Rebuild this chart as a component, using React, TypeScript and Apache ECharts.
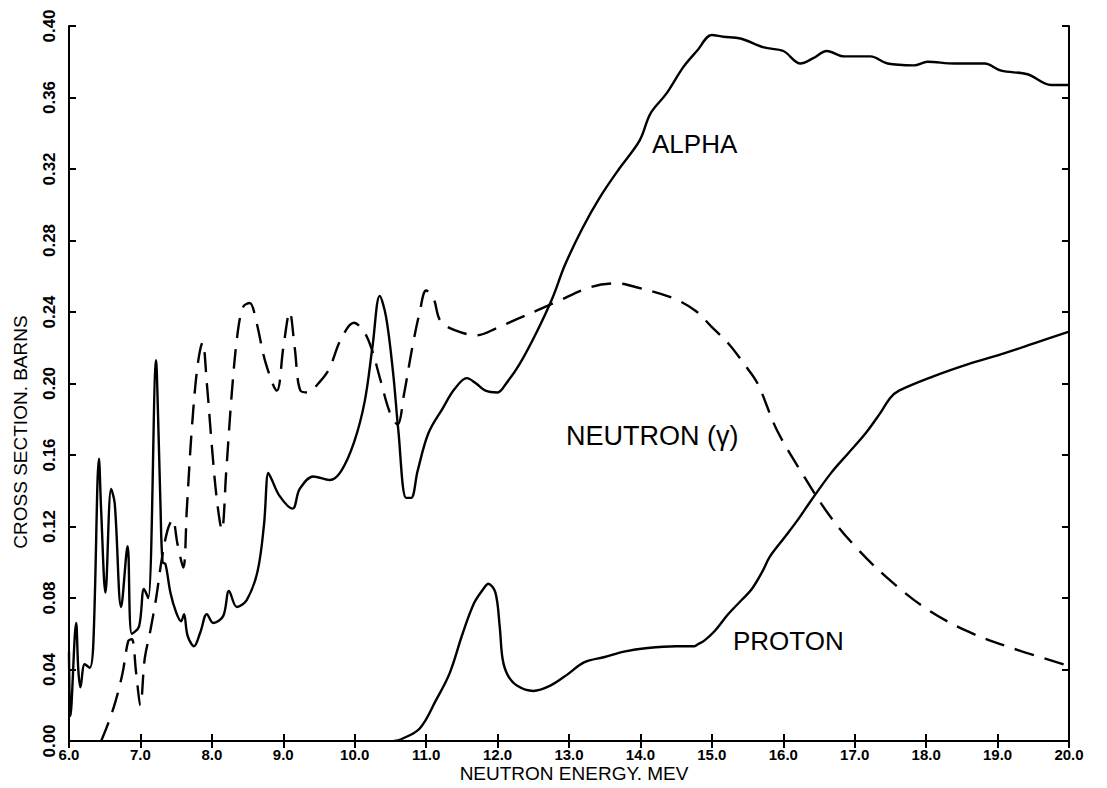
import React, { useEffect, useRef } from "react";
import * as echarts from "echarts";

// Neutron energy (MeV) and cross section (barns)
const alphaEnergy = [
  6.0, 6.02, 6.1, 6.13, 6.16, 6.22, 6.29, 6.34, 6.42, 6.45, 6.51, 6.59, 6.64, 6.73, 6.82, 6.88, 6.98, 7.05, 7.11,
  7.22, 7.24, 7.28, 7.31, 7.35, 7.42, 7.5, 7.57, 7.61, 7.66, 7.75, 7.84, 7.93, 8.02, 8.16, 8.24, 8.35, 8.49, 8.64,
  8.73, 8.79, 8.83, 8.95, 9.13, 9.23, 9.42, 9.65, 9.81, 9.99, 10.14, 10.25, 10.35, 10.44, 10.54, 10.61, 10.72,
  10.79, 10.88, 11.03, 11.23, 11.4, 11.57, 11.7, 11.83, 12.0, 12.12, 12.31, 12.55, 12.77, 12.94, 13.19, 13.43,
  13.7, 13.99, 14.14, 14.36, 14.6, 14.79, 15.0, 15.16, 15.4, 15.73, 16.0, 16.24, 16.42, 16.61, 16.85, 17.22,
  17.46, 17.83, 18.02, 18.39, 18.82, 19.05, 19.42, 19.75, 20.0,
];
const alphaSigma = [
  0.05, 0.014, 0.066, 0.04, 0.03, 0.043, 0.041, 0.054, 0.158, 0.129, 0.083, 0.141, 0.133, 0.075, 0.109, 0.06,
  0.064, 0.085, 0.08, 0.213, 0.192, 0.133, 0.1, 0.099, 0.083, 0.072, 0.067, 0.071, 0.059, 0.053, 0.061, 0.071,
  0.066, 0.07, 0.084, 0.075, 0.079, 0.095, 0.121, 0.15, 0.147, 0.137, 0.13, 0.141, 0.148, 0.146, 0.151, 0.167,
  0.19, 0.221, 0.249, 0.237, 0.205, 0.174, 0.136, 0.136, 0.151, 0.172, 0.186, 0.197, 0.203, 0.2, 0.196, 0.195,
  0.2, 0.211, 0.229, 0.248, 0.266, 0.287, 0.304, 0.32, 0.336, 0.351, 0.362, 0.377, 0.386, 0.395, 0.394, 0.393,
  0.388, 0.386, 0.379, 0.382, 0.386, 0.383, 0.383, 0.379, 0.378, 0.38, 0.379, 0.379, 0.375, 0.373, 0.367, 0.367,
];

const neutronEnergy = [
  6.45, 6.55, 6.65, 6.75, 6.83, 6.88, 6.94, 7.0, 7.06, 7.14, 7.22, 7.3, 7.38, 7.45, 7.52, 7.6, 7.65, 7.72, 7.8,
  7.87, 7.93, 8.0, 8.07, 8.14, 8.2, 8.28, 8.36, 8.44, 8.53, 8.62, 8.75, 8.91, 9.0, 9.09, 9.16, 9.24, 9.35, 9.49,
  9.64, 9.81, 9.99, 10.13, 10.24, 10.36, 10.49, 10.6, 10.69, 10.81, 10.91, 11.0, 11.1, 11.2, 11.39, 11.71, 11.99,
  12.27, 12.56, 12.84, 13.31, 13.68, 13.93, 14.44, 14.76, 14.99, 15.24, 15.45, 15.64, 15.91, 16.26, 16.65, 17.05,
  17.52, 18.04, 18.6, 19.2, 20.0,
];
const neutronSigma = [
  0.0, 0.01, 0.022, 0.038, 0.056, 0.057, 0.038, 0.02, 0.046, 0.062, 0.08, 0.102, 0.118, 0.124, 0.11, 0.097, 0.13,
  0.175, 0.21, 0.223, 0.2, 0.165, 0.135, 0.118, 0.15, 0.195, 0.228, 0.243, 0.245, 0.235, 0.212, 0.196, 0.22, 0.24,
  0.22, 0.196, 0.195, 0.2, 0.208, 0.225, 0.234, 0.229, 0.219, 0.202, 0.184, 0.177, 0.194, 0.221, 0.24, 0.252,
  0.248, 0.235, 0.23, 0.227, 0.231, 0.236, 0.241, 0.246, 0.254, 0.256, 0.254, 0.248, 0.241, 0.232, 0.222, 0.211,
  0.2, 0.174, 0.15, 0.126, 0.107, 0.089, 0.073, 0.061, 0.052, 0.042,
];

const protonEnergy = [
  10.55, 10.65, 10.91, 11.14, 11.33, 11.51, 11.67, 11.8, 11.87, 11.97, 12.03, 12.07, 12.14, 12.27, 12.5, 12.74,
  12.97, 13.21, 13.5, 13.77, 14.1, 14.5, 14.75, 14.8, 14.89, 15.04, 15.23, 15.42, 15.56, 15.71, 15.81, 16.0, 16.19,
  16.38, 16.67, 16.91, 17.15, 17.35, 17.5, 17.62, 18.1, 18.6, 19.1, 19.55, 20.0,
];
const protonSigma = [
  0.0, 0.001, 0.007, 0.023, 0.038, 0.06, 0.077, 0.085, 0.088, 0.083, 0.064, 0.046, 0.037, 0.031, 0.028, 0.031,
  0.037, 0.044, 0.047, 0.05, 0.052, 0.053, 0.053, 0.054, 0.056, 0.0615, 0.071, 0.079, 0.085, 0.095, 0.103, 0.113,
  0.123, 0.134, 0.15, 0.161, 0.172, 0.183, 0.192, 0.196, 0.204, 0.211, 0.217, 0.223, 0.229,
];

const curveLabels = ["ALPHA", "NEUTRON (γ)", "PROTON"];
const xTitle = "NEUTRON ENERGY. MEV";
const yTitle = "CROSS SECTION. BARNS";

const FONT = "'Liberation Sans', Arial, sans-serif";

function pairs(xs: number[], ys: number[]) {
  return xs.map((x, i) => [x, ys[i]]);
}

export default function App() {
  const ref = useRef<HTMLDivElement>(null);
  useEffect(() => {
    const chart = echarts.init(ref.current!, null, { renderer: "svg" });
    const axisLine = { show: true, lineStyle: { color: "#000", width: 2 } };
    const axisTick = { show: true, inside: true, length: 7, lineStyle: { color: "#000", width: 2 } };
    const tickFont = { color: "#000", fontFamily: FONT, fontWeight: "bold" as const };
    const lineBase = {
      type: "line" as const,
      showSymbol: false,
      symbol: "none",
      smooth: 0.35,
      xAxisIndex: 0,
      yAxisIndex: 0,
    };
    chart.setOption({
      animation: false,
      backgroundColor: "#fff",
      grid: { left: 69, right: 38, top: 26, bottom: 47 },
      xAxis: [
        {
          type: "value",
          min: 6,
          max: 20,
          interval: 1,
          axisLine,
          axisTick,
          splitLine: { show: false },
          axisLabel: {
            ...tickFont,
            fontSize: 15,
            margin: 6,
            showMinLabel: true,
            showMaxLabel: true,
            formatter: (v: number) => v.toFixed(1),
          },
        },
        {
          type: "value",
          position: "top",
          min: 6,
          max: 20,
          interval: 1,
          axisLine,
          axisTick,
          splitLine: { show: false },
          axisLabel: { show: false },
        },
      ],
      yAxis: [
        {
          type: "value",
          min: 0,
          max: 0.4,
          interval: 0.04,
          axisLine,
          axisTick,
          splitLine: { show: false },
          axisLabel: {
            ...tickFont,
            fontSize: 17,
            rotate: 90,
            margin: 11,
            showMinLabel: true,
            showMaxLabel: true,
            formatter: (v: number) => v.toFixed(2),
          },
        },
        {
          type: "value",
          position: "right",
          min: 0,
          max: 0.4,
          interval: 0.04,
          axisLine,
          axisTick,
          splitLine: { show: false },
          axisLabel: { show: false },
        },
      ],
      series: [
        {
          ...lineBase,
          name: "ALPHA",
          data: pairs(alphaEnergy, alphaSigma),
          lineStyle: { color: "#000", width: 2.4 },
        },
        {
          ...lineBase,
          name: "NEUTRON (γ)",
          data: pairs(neutronEnergy, neutronSigma),
          lineStyle: { color: "#000", width: 2.4, type: [20, 11] },
        },
        {
          ...lineBase,
          name: "PROTON",
          data: pairs(protonEnergy, protonSigma),
          lineStyle: { color: "#000", width: 2.4 },
        },
      ],
      graphic: [
        {
          type: "text",
          x: 652,
          y: 144,
          style: { text: curveLabels[0], font: `26px ${FONT}`, fill: "#000", verticalAlign: "middle" },
        },
        {
          type: "text",
          x: 566,
          y: 436,
          style: { text: curveLabels[1], font: `27px ${FONT}`, fill: "#000", verticalAlign: "middle" },
        },
        {
          type: "text",
          x: 733,
          y: 641,
          style: { text: curveLabels[2], font: `26px ${FONT}`, fill: "#000", verticalAlign: "middle" },
        },
        {
          type: "text",
          x: 574,
          y: 773,
          style: { text: xTitle, font: `19px ${FONT}`, fill: "#000", align: "center", verticalAlign: "middle" },
        },
        {
          type: "text",
          x: 20,
          y: 432,
          rotation: Math.PI / 2,
          style: { text: yTitle, font: `19px ${FONT}`, fill: "#000", align: "center", verticalAlign: "middle" },
        },
      ],
    });
    return () => chart.dispose();
  }, []);
  return (
    <div
      ref={ref}
      style={{ position: "fixed", left: 0, top: 0, width: 1107, height: 788, background: "#fff" }}
    />
  );
}
